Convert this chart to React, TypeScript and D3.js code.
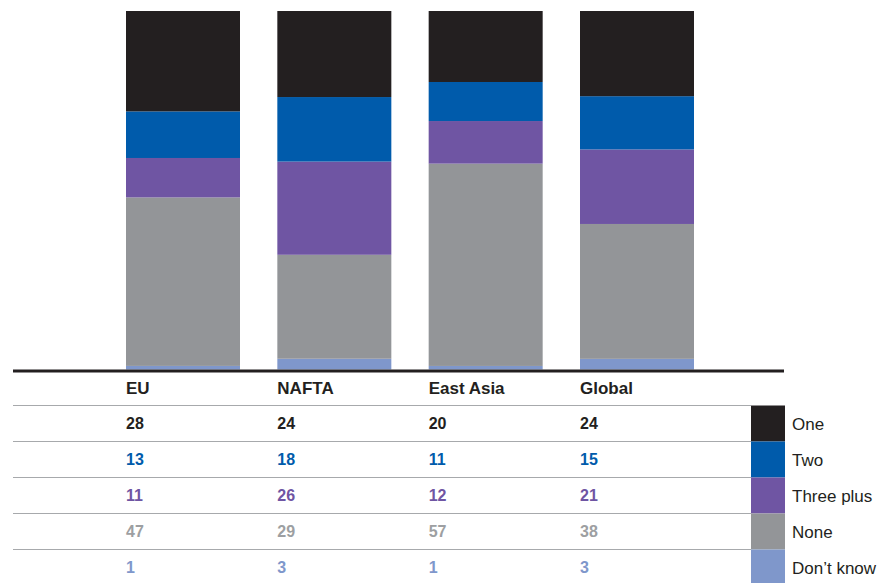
import React from "react";
import * as d3 from "d3";

const regions = ["EU", "NAFTA", "East Asia", "Global"];
const seriesNames = ["One", "Two", "Three plus", "None", "Don't know"];
const legendLabels = ["One", "Two", "Three plus", "None", "Don\u2019t know"];
const one = [28, 24, 20, 24];
const two = [13, 18, 11, 15];
const threePlus = [11, 26, 12, 21];
const none = [47, 29, 57, 38];
const dontKnow = [1, 3, 1, 3];
const seriesColors = ["#231f20", "#005bab", "#6f55a3", "#939598", "#7f97cb"];
const textColors = ["#231f20", "#005bab", "#6f55a3", "#9d9fa2", "#7f97cb"];

const W = 887;
const H = 583;
const FONT = "'Liberation Sans', Arial, sans-serif";

export default function App() {
  const seriesValues = [one, two, threePlus, none, dontKnow];
  const rows = regions.map((r, i) => {
    const o: any = { region: r };
    seriesNames.forEach((s, k) => (o[s] = seriesValues[k][i]));
    const total = seriesNames.reduce((a, s) => a + o[s], 0);
    seriesNames.forEach((s) => (o[s] = o[s] / total));
    return o;
  });
  // stack from bottom: Don't know, None, Three plus, Two, One
  const stackKeys = [...seriesNames].reverse();
  const stacked = d3.stack().keys(stackKeys)(rows);

  const x = d3.scaleBand().domain(regions).range([126, 694]).paddingInner(0.2467).paddingOuter(0);
  const y = d3.scaleLinear().domain([0, 1]).range([369.5, 11]);

  const rowY = d3.scaleLinear().domain([0, 1]).range([405.5, 441.5]); // row index -> top
  const rowH = 36;

  return (
    <div style={{ position: "absolute", left: 0, top: 0 }}>
      <svg width={W} height={H} style={{ display: "block", fontFamily: FONT }}>
        <rect width={W} height={H} fill="#ffffff" />
        {stacked.map((layer) => {
          const color = seriesColors[seriesNames.indexOf(layer.key)];
          return (
            <g key={layer.key} fill={color}>
              {layer.map((d: any, i: number) => (
                <rect
                  key={i}
                  x={x(regions[i])}
                  width={x.bandwidth()}
                  y={y(d[1])}
                  height={y(d[0]) - y(d[1])}
                />
              ))}
            </g>
          );
        })}
        <line x1={13} x2={784} y1={371} y2={371} stroke="#231f20" strokeWidth={3} />
        {regions.map((r) => (
          <text
            key={r}
            x={x(r)}
            y={rowY(-0.5)}
            dy="0.36em"
            fontSize={17}
            fontWeight="bold"
            fill="#231f20"
          >
            {r}
          </text>
        ))}
        {seriesNames.map((s, k) => (
          <line
            key={"sep" + s}
            x1={13}
            x2={751}
            y1={rowY(k)}
            y2={rowY(k)}
            stroke="#a7a9ac"
            strokeWidth={1.2}
          />
        ))}
        {seriesNames.map((s, k) =>
          regions.map((r, i) => (
            <text
              key={s + r}
              x={x(r)}
              y={rowY(k + 0.5)}
              dy="0.36em"
              fontSize={16}
              fontWeight="bold"
              fill={textColors[k]}
            >
              {seriesValues[k][i]}
            </text>
          ))
        )}
        {seriesNames.map((s, k) => (
          <g key={"leg" + s}>
            <rect x={751} y={rowY(k)} width={34} height={rowH} fill={seriesColors[k]} />
            <text x={792} y={rowY(k + 0.5)} dy="0.36em" fontSize={17} fill="#231f20">
              {legendLabels[k]}
            </text>
          </g>
        ))}
      </svg>
    </div>
  );
}
